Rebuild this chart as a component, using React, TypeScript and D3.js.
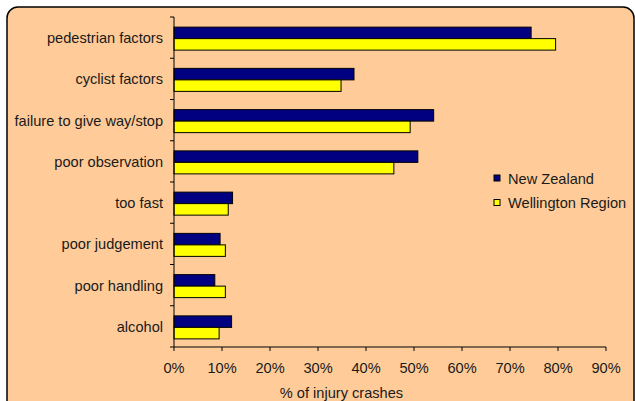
import React from "react";
import * as d3 from "d3";

const categories = [
  "pedestrian factors",
  "cyclist factors",
  "failure to give way/stop",
  "poor observation",
  "too fast",
  "poor judgement",
  "poor handling",
  "alcohol",
];
const newZealand = [74.4, 37.5, 54.1, 50.8, 12.2, 9.6, 8.5, 12.0];
const wellington = [79.5, 34.8, 49.2, 45.8, 11.3, 10.7, 10.7, 9.4];
const seriesNames = ["New Zealand", "Wellington Region"];
const seriesColors = ["#000080", "#FFFF00"];
const xTicks = [0, 10, 20, 30, 40, 50, 60, 70, 80, 90];
const xLabel = "% of injury crashes";

export default function App() {
  const W = 635, H = 401;
  const left = 174, right = 606, top = 17, bottom = 347;
  const x = d3.scaleLinear().domain([0, 90]).range([left, right]);
  const y = d3.scaleBand<string>().domain(categories).range([top, bottom]);
  const bw = y.bandwidth();
  const barH = 11.5;
  const font = "'Liberation Sans', Arial, sans-serif";
  const fs = 14.6;
  const series = [newZealand, wellington];

  return (
    <svg width={W} height={H} style={{ position: "absolute", left: 0, top: 0 }}>
      <rect x={0} y={0} width={W} height={H} fill="#fff" />
      <rect x={7} y={7} width={627} height={405} rx={11} ry={11} fill="#FFCC99" stroke="#000" strokeWidth={1.5} />
      {categories.map((c, i) => {
        const y0 = (y(c) as number) + bw / 2 - barH + 1;
        return (
          <g key={c}>
            {series.map((s, j) => (
              <rect
                key={j}
                x={x(0)}
                y={y0 + j * barH}
                width={x(s[i]) - x(0)}
                height={barH}
                fill={seriesColors[j]}
                stroke="#000"
                strokeWidth={1}
              />
            ))}
            <text
              x={left - 11}
              y={(y(c) as number) + bw / 2 + 5.5}
              textAnchor="end"
              fontFamily={font}
              fontSize={fs}
              fill="#1a1a1a"
            >
              {c}
            </text>
          </g>
        );
      })}
      {/* y axis */}
      <line x1={left} x2={left} y1={top} y2={bottom} stroke="#000" strokeWidth={1} />
      {categories.map((c) => (
        <line key={c} x1={left - 4} x2={left} y1={y(c) as number} y2={y(c) as number} stroke="#000" />
      ))}
      <line x1={left - 4} x2={left} y1={bottom} y2={bottom} stroke="#000" />
      {/* x axis */}
      <line x1={left} x2={right} y1={bottom} y2={bottom} stroke="#000" strokeWidth={1} />
      {xTicks.map((t) => (
        <g key={t}>
          <line x1={x(t)} x2={x(t)} y1={bottom} y2={bottom + 4} stroke="#000" />
          <text x={x(t)} y={372.5} textAnchor="middle" fontFamily={font} fontSize={fs} fill="#1a1a1a">
            {t}%
          </text>
        </g>
      ))}
      <text x={341.5} y={398} textAnchor="middle" fontFamily={font} fontSize={fs} fill="#1a1a1a">
        {xLabel}
      </text>
      {/* legend */}
      {seriesNames.map((n, j) => (
        <g key={n}>
          <rect x={494} y={175 + j * 24.5} width={6} height={6} fill={seriesColors[j]} stroke="#000" strokeWidth={1} />
          <text x={508} y={183.5 + j * 24.5} fontFamily={font} fontSize={fs} fill="#1a1a1a">
            {n}
          </text>
        </g>
      ))}
    </svg>
  );
}
